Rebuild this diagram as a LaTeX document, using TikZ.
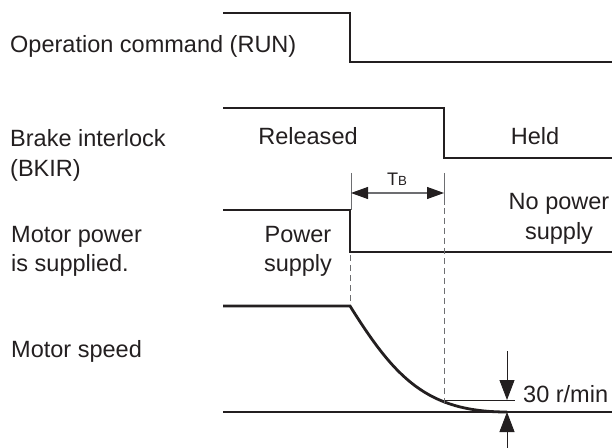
\documentclass[tikz,border=0pt]{standalone}
\usepackage{fontspec}
\setmainfont{Liberation Sans}
\usetikzlibrary{arrows.meta}
\definecolor{ink}{HTML}{231F20}
\definecolor{dim}{HTML}{6D6E71}
\tikzset{
  sig/.style={draw=ink, line width=2.8bp, line join=miter},
  thin/.style={draw=ink, line width=1.1bp},
  guide/.style={draw=dim, line width=0.9bp, dash pattern=on 6bp off 4bp},
  tick/.style={draw=dim, line width=0.9bp},
  lbl/.style={inner sep=0pt, text=ink, font=\fontsize{23.6}{29.5}\selectfont},
}
\begin{document}
\begin{tikzpicture}[x=1bp,y=-1bp]
\useasboundingbox (0,0) rectangle (612,448);

% --- labels on the left
\node[lbl, anchor=base west] (l1) at (10,53) {Operation command (RUN)};
\node[lbl, anchor=base west] (l2a) at (10,147) {Brake interlock};
\node[lbl, anchor=base west] (l2b) at (10,177) {(BKIR)};
\node[lbl, anchor=base west] (l3a) at (11,243) {Motor power};
\node[lbl, anchor=base west] (l3b) at (11,272) {is supplied.};
\node[lbl, anchor=base west] (l4) at (11,357) {Motor speed};

% --- state labels
\node[lbl, anchor=base] (rel) at (308,145) {Released};
\node[lbl, anchor=base] (held) at (535,145) {Held};
\node[lbl, anchor=base] (pw1) at (298,243) {Power};
\node[lbl, anchor=base] (pw2) at (298,272) {supply};
\node[lbl, anchor=base] (np1) at (559,210) {No power};
\node[lbl, anchor=base] (np2) at (559,240) {supply};
\node[lbl, anchor=base west] (rpm) at (523,402) {30 r/min};
\node[inner sep=0pt, text=ink, anchor=base] (tb) at (397,186)
  {\fontsize{18.2}{20}\selectfont T\fontsize{13.3}{15}\selectfont B};

% --- coordinates
\coordinate (a1) at (223,13);  \coordinate (a2) at (350,13);
\coordinate (a3) at (350,62);  \coordinate (a4) at (612,62);
\coordinate (b1) at (223,108); \coordinate (b2) at (444,108);
\coordinate (b3) at (444,158); \coordinate (b4) at (612,158);
\coordinate (c1) at (223,210); \coordinate (c2) at (350,210);
\coordinate (c3) at (350,252); \coordinate (c4) at (612,252);
\coordinate (s1) at (223,306); \coordinate (s2) at (350,306);
\coordinate (s3) at (507,412);
\coordinate (z1) at (223,412); \coordinate (z2) at (612,412);
\coordinate (h1) at (444,400); \coordinate (h2) at (515,400);

% --- signals
\draw[sig] (a1) -- (a2) -- (a3) -- (a4);
\draw[sig] (b1) -- (b2) -- (b3) -- (b4);
\draw[sig] (c1) -- (c2) -- (c3) -- (c4);
\draw[sig, line cap=butt] (s1) -- (s2) .. controls (395,378) and (427,412) .. (s3);

% --- reference lines
\draw[thin] (z1) -- (z2);
\draw[thin, line width=0.9bp] (h1) -- (h2);

% --- guides and TB dimension
\coordinate (t1a) at (351,173); \coordinate (t1b) at (351,210);
\coordinate (t2a) at (444,173); \coordinate (t2b) at (444,205);
\draw[tick] (t1a) -- (t1b);
\draw[tick] (t2a) -- (t2b);
\coordinate (g1a) at (350,255); \coordinate (g1b) at (350,305);
\coordinate (g2a) at (444,208); \coordinate (g2b) at (444,407);
\draw[guide] (g1a) -- (g1b);
\draw[guide] (g2a) -- (g2b);
\coordinate (ta) at (351,193); \coordinate (tbb) at (444,193);
\draw[draw=dim, line width=1.1bp, {Triangle[length=17bp,width=12bp,fill=ink,color=ink]}-{Triangle[length=17bp,width=12bp,fill=ink,color=ink]}] (ta) -- (tbb);

% --- 30 r/min dimension
\coordinate (d1) at (507,351); \coordinate (d2) at (507,400);
\coordinate (u1) at (507,448); \coordinate (u2) at (507,412);
\draw[thin, line width=0.9bp, -{Triangle[length=20bp,width=15bp]}] (d1) -- (d2);
\draw[thin, line width=0.9bp, -{Triangle[length=20bp,width=15bp]}] (u1) -- (u2);
\end{tikzpicture}
\end{document}
